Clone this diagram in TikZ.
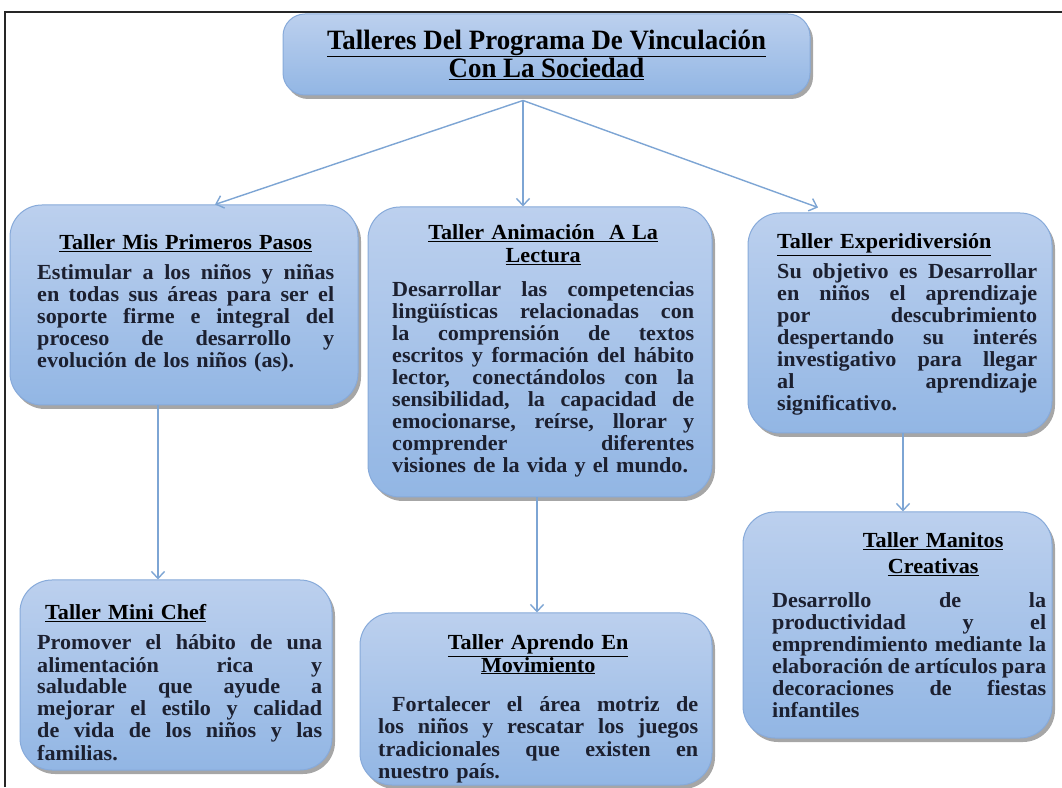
\documentclass[tikz,border=0pt]{standalone}
\usepackage{fontspec}
\setmainfont{Liberation Serif}
\newfontfamily\bodyfont{Liberation Serif}[FakeStretch=1.03]
\newfontfamily\headfont{Liberation Serif}[FakeStretch=0.96]
\usetikzlibrary{arrows.meta,shadows,calc}
\definecolor{boxtop}{RGB}{188,208,238}
\definecolor{boxbot}{RGB}{146,182,228}
\definecolor{boxedge}{RGB}{135,170,218}
\definecolor{arrowc}{RGB}{125,165,212}
\definecolor{txtc}{RGB}{28,32,48}
\newcommand\jl[1]{\hbox to \linewidth{\spaceskip=0.25em plus 1fil minus 0.08em\xspaceskip=0.25em plus 1fil minus 0.08em\relax #1}}
\newcommand\ttl[1]{{\color{black}\underline{#1}}}
\begin{document}
\begin{tikzpicture}[x=1pt,y=1pt,
  box/.style={rounded corners=32pt, draw=boxedge, line width=1pt,
    top color=boxtop, bottom color=boxbot, inner sep=0pt,
    drop shadow={shadow xshift=3pt, shadow yshift=-4pt, opacity=0.35, fill=black}},
  arr/.style={draw=arrowc, line width=1.4pt, -{Straight Barb[length=7pt,width=13pt]}},
  txtblk/.style={anchor=base west, inner sep=0pt, text=txtc,
    font={\bodyfont\bfseries\fontsize{21.5}{22}\selectfont\lineskiplimit=-50pt}}
]
\useasboundingbox (0,0) rectangle (1062,787);
\fill[white] (0,0) rectangle (1062,787);
\draw[line width=1.3pt, black!85] (5,0) -- (5,775) -- (1062,775);

% boxes
\node[box, rounded corners=22pt, minimum width=527pt, minimum height=81pt] (top) at (546.5,732.5) {};
\node[box, minimum width=348pt, minimum height=200pt] (b1) at (184,482) {};
\node[box, minimum width=344pt, minimum height=290pt] (b2) at (540,435) {};
\node[box, minimum width=304pt, minimum height=220pt] (b3) at (900,464) {};
\node[box, minimum width=312pt, minimum height=190pt] (mc) at (176,112) {};
\node[box, minimum width=352pt, minimum height=172pt] (ap) at (536,88) {};
\node[box, minimum width=309pt, minimum height=226pt] (mn) at (897.5,162) {};

% connectors
\coordinate (hub) at ([xshift=-23.5pt,yshift=-5pt]top.south);
\draw[arr] (hub) -- ([xshift=31pt]b1.north);
\draw[arr] (hub) -- (hub |- b2.north);
\draw[arr] (hub) -- ([xshift=-82pt,yshift=5pt]b3.north);
\draw[arr] ([xshift=-26pt]b1.south) -- ([xshift=-26pt]b1.south |- mc.north);
\draw[arr] ([xshift=-3pt]b2.south) -- ([xshift=-3pt]b2.south |- ap.north);
\draw[arr] ([xshift=3pt]b3.south) -- ([xshift=3pt]b3.south |- mn.north);

% texts
\node[align=center, inner sep=0pt, font={\headfont\bfseries\fontsize{28}{28}\selectfont}] (t0) at (top.center)
  {\ttl{Talleres Del Programa De Vinculación}\\ \ttl{Con La Sociedad}};

\node[txtblk, text width=297pt] (t1) at (37,537) {%
{\centering\ttl{Taller Mis Primeros Pasos}\par}\vspace{8pt}
\jl{Estimular a los niños y niñas}
\jl{en todas sus áreas para ser el}
\jl{soporte firme e integral del}
\jl{proceso de desarrollo y}
evolución de los niños (as).\par};

\node[txtblk, text width=302pt] (t2) at (392,547) {%
{\centering\ttl{Taller Animación\ \ A La}\par\vspace{1pt}\ttl{Lectura}\par}\vspace{12pt}
\jl{Desarrollar las competencias}
\jl{lingüísticas relacionadas con}
\jl{la comprensión de textos}
\jl{escritos y formación del hábito}
\jl{lector, conectándolos con la}
\jl{sensibilidad, la capacidad de}
\jl{emocionarse, reírse, llorar y}
\jl{comprender diferentes}
visiones de la vida y el mundo.\par};

\node[txtblk, text width=260pt] (t3) at (777,538) {%
\ttl{Taller Experidiversión}\par\vspace{8pt}
\jl{Su objetivo es Desarrollar}
\jl{en niños el aprendizaje}
\jl{por descubrimiento}
\jl{despertando su interés}
\jl{investigativo para llegar}
\jl{al aprendizaje}
significativo.\par};

\node[txtblk, text width=285pt] (t4) at (37,167) {%
\hspace*{8pt}\ttl{Taller Mini Chef}\par\vspace{8pt}
\jl{Promover el hábito de una}
\jl{alimentación rica y}
\jl{saludable que ayude a}
\jl{mejorar el estilo y calidad}
\jl{de vida de los niños y las}
familias.\par};

\node[txtblk, text width=320pt] (t5) at (378,137) {%
{\centering\ttl{Taller Aprendo En}\par\ttl{Movimiento}\par}\vspace{18pt}
\jl{\hspace*{14pt}Fortalecer el área motriz de}
\jl{los niños y rescatar los juegos}
\jl{tradicionales que existen en}
nuestro país.\par};

\node[txtblk, text width=274pt] (t6) at (772,239) {%
{\centering\hspace*{48pt}\ttl{Taller Manitos}\par\vspace{4pt}\hspace*{48pt}\ttl{Creativas}\par}\vspace{12pt}
\jl{Desarrollo de la}
\jl{productividad y el}
\jl{emprendimiento mediante la}
\jl{elaboración de artículos para}
\jl{decoraciones de fiestas}
infantiles\par};
\end{tikzpicture}
\end{document}
